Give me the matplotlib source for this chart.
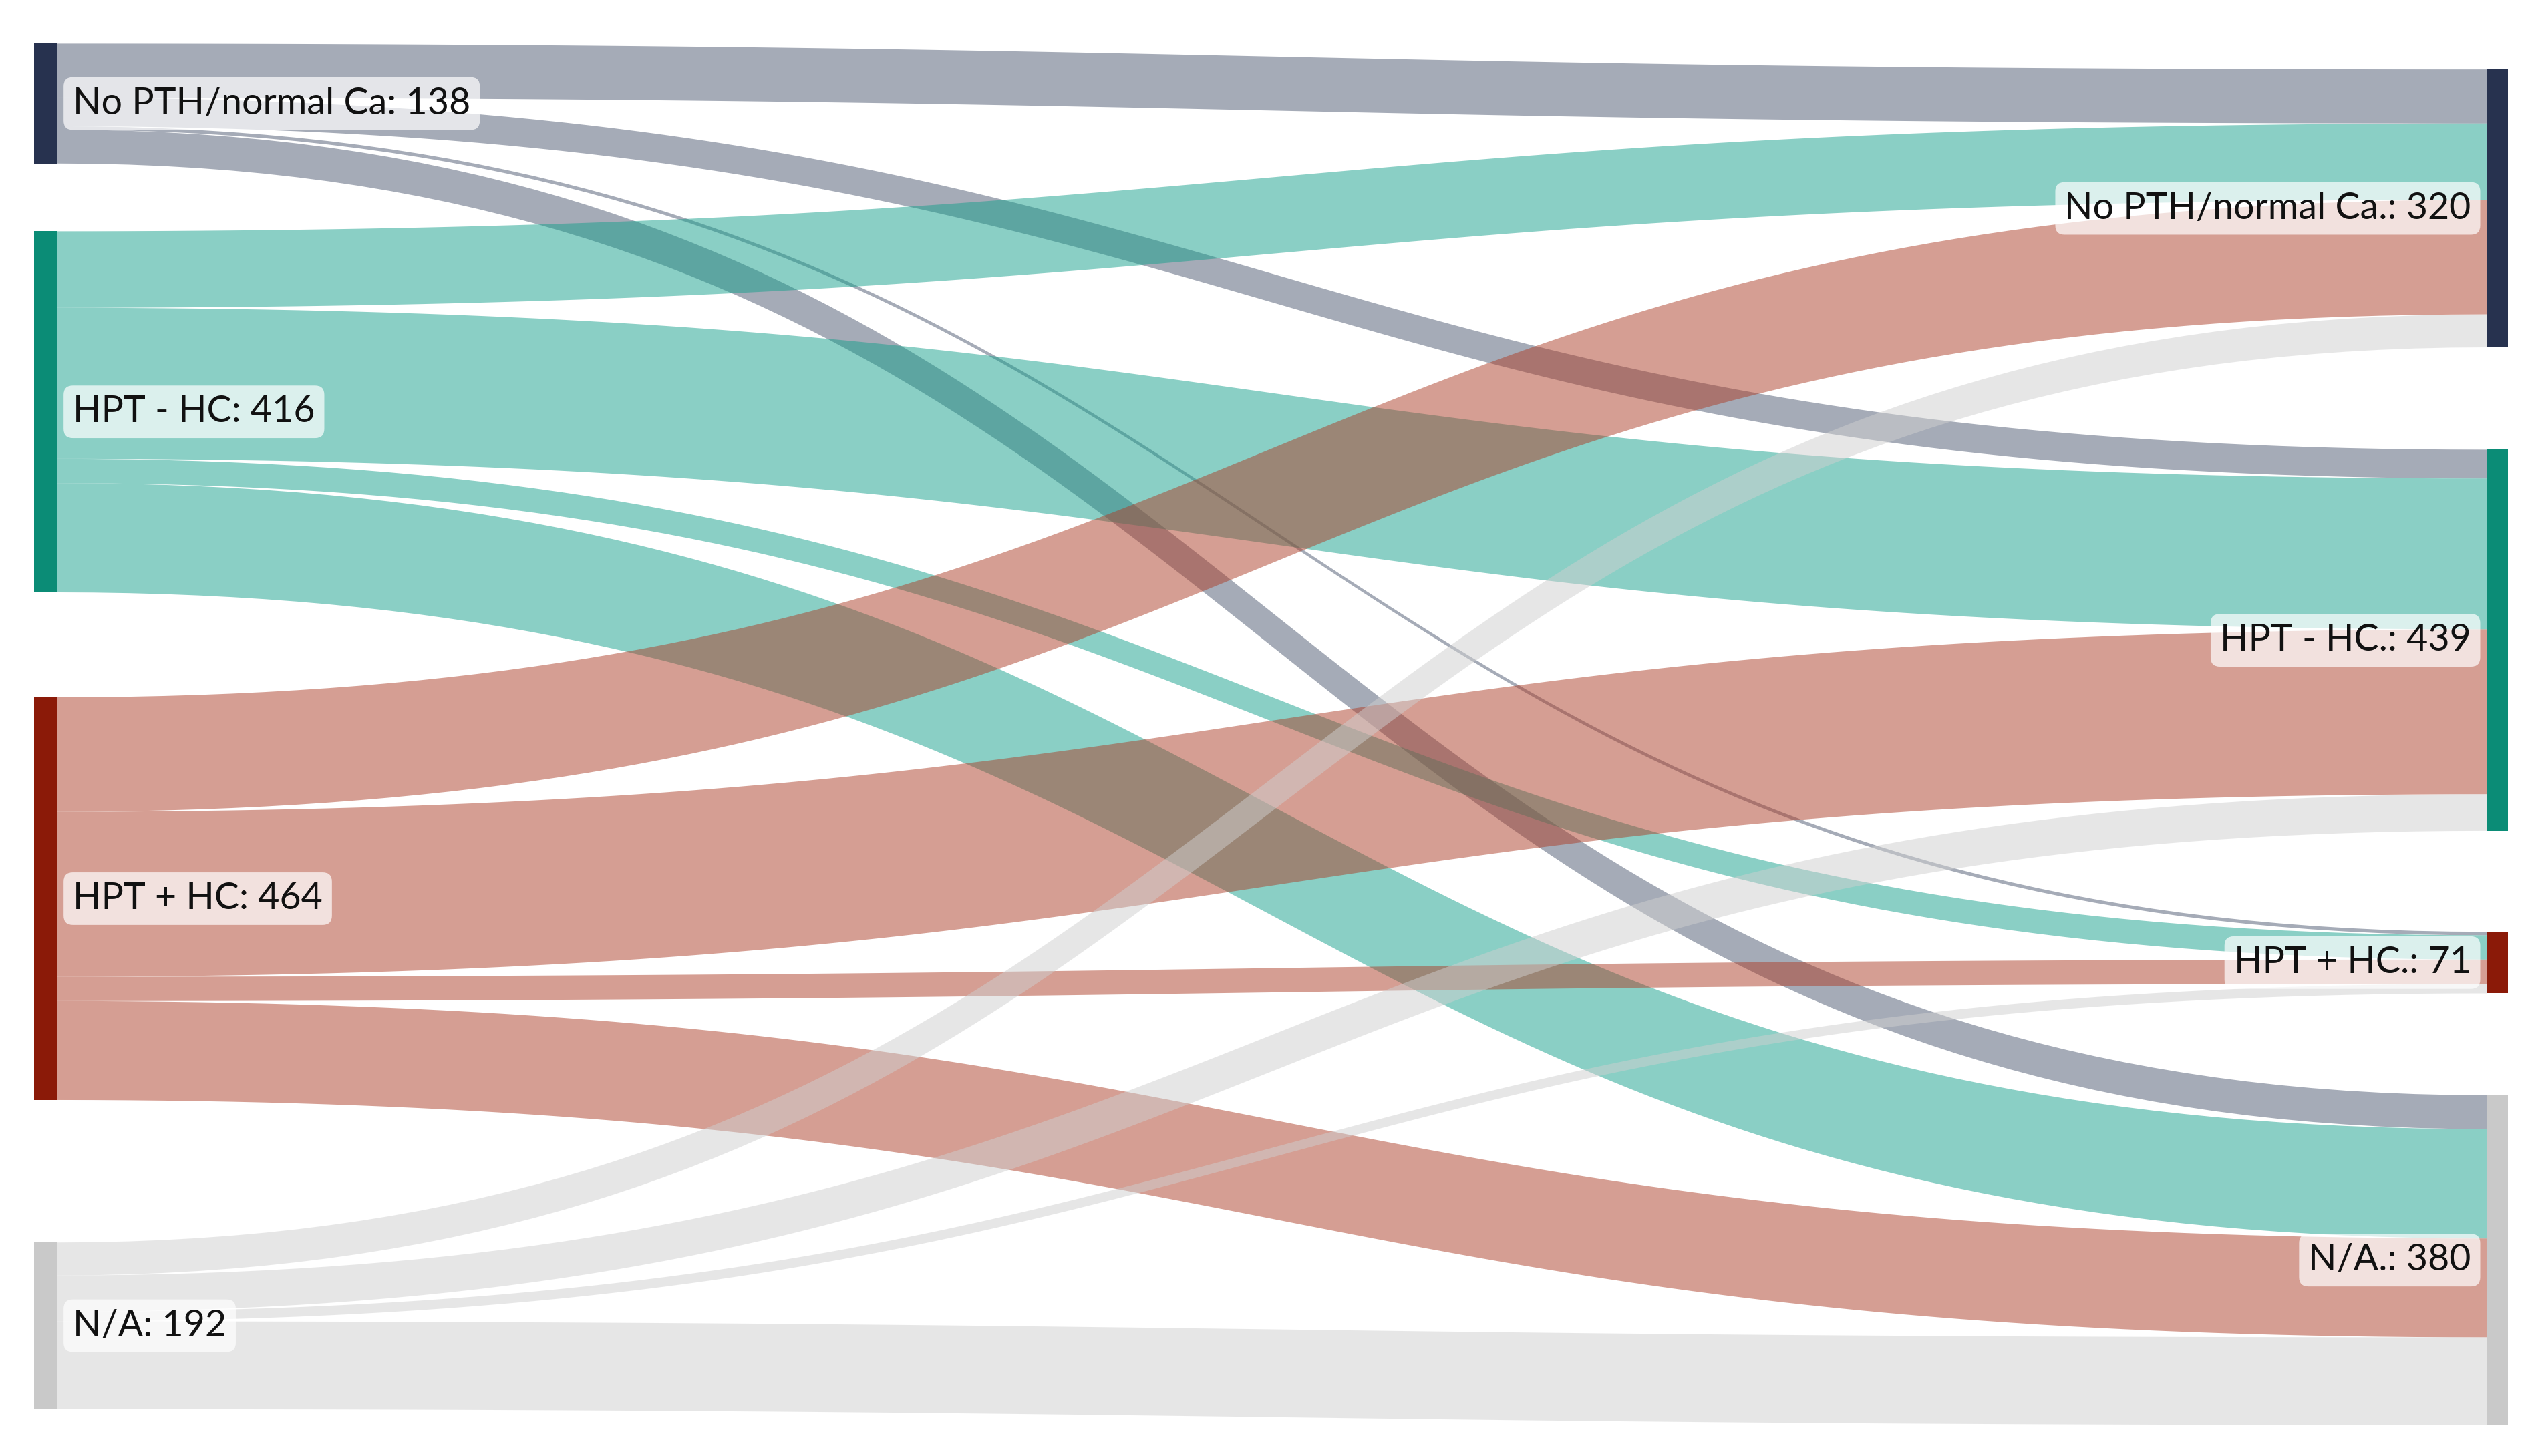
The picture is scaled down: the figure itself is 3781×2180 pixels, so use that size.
import matplotlib
matplotlib.use("Agg")
import matplotlib.pyplot as plt
import numpy as np
from matplotlib.patches import Polygon, Rectangle

plt.rcParams['font.family'] = ['Lato', 'DejaVu Sans']

left_names = ["No PTH/normal Ca", "HPT - HC", "HPT + HC", "N/A"]
right_names = ["No PTH/normal Ca.", "HPT - HC.", "HPT + HC.", "N/A."]
# flows[i][j]: from left node i to right node j
flows = [
    [62, 33, 4, 39],
    [88, 174, 28, 126],
    [132, 190, 28, 114],
    [38, 42, 11, 101],
]
node_colors = ["#27324f", "#0b8c76", "#8b1a08", "#c9c9c9"]
link_colors = ["#4c5870", "#17a08c", "#ad3f28", "#cfcfcf"]

# layout (reference display pixel coordinates, 1560 x 900)
W, H = 1560, 900
k = 0.5365
left_tops = [27, 143, 431, 768]
right_tops = [43, 278, 576, 677]
xl0, xl1 = 21, 35
xr0, xr1 = 1536, 1549

flows = np.array(flows, dtype=float)
left_tot = flows.sum(axis=1)
right_tot = flows.sum(axis=0)

fig = plt.figure(figsize=(37.81, 21.80), dpi=100)
ax = fig.add_axes([0, 0, 1, 1])
ax.set_xlim(0, W)
ax.set_ylim(H, 0)
ax.axis('off')

t = np.linspace(0, 1, 100)
def bez(y0, y1):
    b = (1 - t) ** 3 * 0 + 3 * (1 - t) ** 2 * t * 0 + 3 * (1 - t) * t ** 2 * 1 + t ** 3
    return y0 + (y1 - y0) * b
xs = xl1 + (xr0 - xl1) * (3 * (1 - t) ** 2 * t * 0.5 + 3 * (1 - t) * t ** 2 * 0.5 + t ** 3)

lcur = list(left_tops)
rcur = list(right_tops)
for i in range(4):
    for j in range(4):
        v = flows[i, j] * k
        ly0 = lcur[i]; lcur[i] += v
        ry0 = rcur[j]; rcur[j] += v
        top = bez(ly0, ry0)
        bot = bez(ly0 + v, ry0 + v)
        pts = np.concatenate([np.column_stack([xs, top]), np.column_stack([xs[::-1], bot[::-1]])])
        ax.add_patch(Polygon(pts, closed=True, facecolor=link_colors[i], alpha=0.5, lw=0))

for i in range(4):
    h = left_tot[i] * k
    ax.add_patch(Rectangle((xl0, left_tops[i]), xl1 - xl0, h, facecolor=node_colors[i], lw=0))
    ax.text(xl1 + 10, left_tops[i] + h / 2, f"{left_names[i]}: {int(left_tot[i])}",
            fontsize=40, va='center', ha='left', color='#111111',
            bbox=dict(boxstyle='round,pad=0.25', fc='white', ec='none', alpha=0.7))
for j in range(4):
    h = right_tot[j] * k
    ax.add_patch(Rectangle((xr0, right_tops[j]), xr1 - xr0, h, facecolor=node_colors[j], lw=0))
    ax.text(xr0 - 10, right_tops[j] + h / 2, f"{right_names[j]}: {int(right_tot[j])}",
            fontsize=40, va='center', ha='right', color='#111111',
            bbox=dict(boxstyle='round,pad=0.25', fc='white', ec='none', alpha=0.7))

fig.savefig("out.png", dpi=100, facecolor='white')
